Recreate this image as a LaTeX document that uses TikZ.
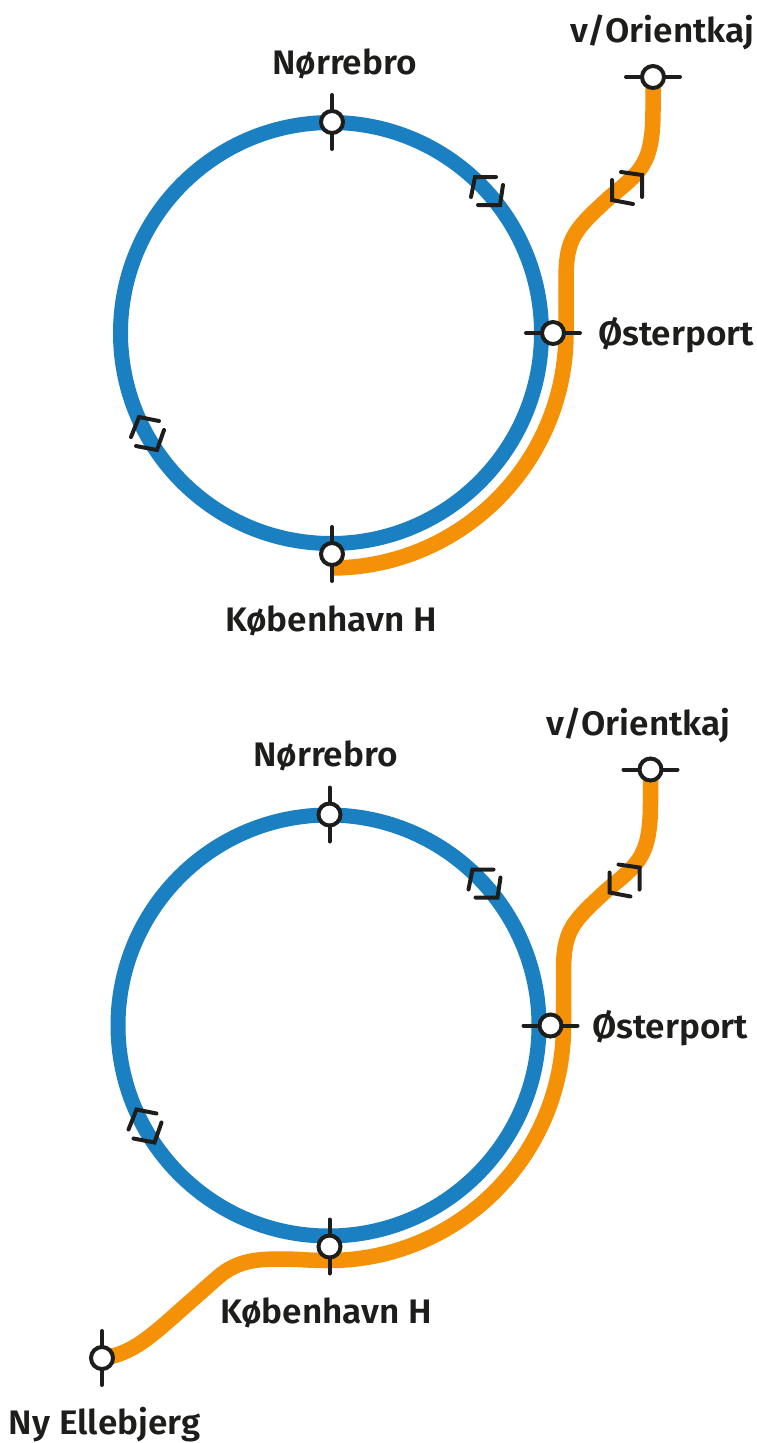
\documentclass[tikz,border=0pt]{standalone}
\usepackage{fontspec}
\setmainfont{Fira Sans}[BoldFont={Fira Sans SemiBold},FakeStretch=1.035]
\definecolor{ringblue}{HTML}{1A80C1}
\definecolor{lineorange}{HTML}{F59106}
\definecolor{ink}{HTML}{1D1D1B}
\tikzset{
  x=1pt,y=-1pt,
  bluering/.style={draw=ringblue,line width=15pt},
  orangeline/.style={draw=lineorange,line width=15.5pt},
  tick/.style={draw=ink,line width=4pt,line cap=round},
  bracket/.style={draw=ink,line width=4pt,line cap=round,line join=miter},
  station/.style={circle,draw=ink,fill=white,line width=4pt,minimum size=22pt,inner sep=0pt,outer sep=0pt},
  label/.style={inner sep=0pt,outer sep=0pt,anchor=base west,text=ink,font=\fontsize{34}{38}\selectfont\bfseries},
}
\newcommand{\stationmark}[4]{% name, x, y, h/v
  \coordinate (#1a) at (#2,#3);
  \ifx#4h
    \draw[tick] ([xshift=-27pt]#1a) -- ([xshift=27pt]#1a);
  \else
    \draw[tick] ([yshift=-27pt]#1a) -- ([yshift=27pt]#1a);
  \fi
  \node[station] (#1) at (#1a) {};
}
\newcommand{\brackets}{%
  \draw[bracket] (496,177) -- (475,177) -- (471,197);
  \draw[bracket] (478,205) -- (500,205) -- (503,185);
  \draw[bracket] (621,172) -- (642,175) -- (642,197);
  \draw[bracket] (633,204) -- (612,200) -- (612,180);
  \draw[bracket] (159,421) -- (139,417) -- (131,437);
  \draw[bracket] (136,446) -- (157,450) -- (164,430);
}
\newcommand{\upperpart}{%
  \draw[bluering] (331,333) circle [radius=210.5pt];
  \coordinate (turn) at (566,333);
  \coordinate (low) at (331,568);
  \draw[orangeline] (low) .. controls (460.8,568) and (566,462.8) .. (turn)
     -- (566,280) .. controls (566,238) and (574,230) .. (610,197)
     .. controls (640,172) and (653,165) .. (653,110) -- (653,77);
  \brackets
  \stationmark{nor}{332}{122}{v}
  \stationmark{ost}{553}{333}{h}
  \stationmark{ori}{653}{77}{h}
}
\begin{document}
\begin{tikzpicture}
\useasboundingbox (0,0) rectangle (757,1443);
\begin{scope}
  \upperpart
  \stationmark{kbh}{332}{554}{v}
  \node[label] (lnor) at (272,74) {Nørrebro};
  \node[label] (lori) at (570,42) {v/Orientkaj};
  \node[label] (lost) at (598,345) {Østerport};
  \node[label] (lkbh) at (225,631) {København H};
\end{scope}
\begin{scope}[shift={(-2.5,692.5)}]
  \upperpart
  \draw[orangeline] (low) .. controls (311,568) and (300,566.5) .. (285.5,566.5)
     .. controls (262,566.5) and (240,567) .. (219.5,585.5)
     -- (185.5,615.5)
     .. controls (155.5,642) and (135,662) .. (104.5,665.5);
  \stationmark{kbhb}{332}{554}{v}
  \stationmark{nye}{104.5}{665.5}{v}
  \node[label] (lnorb) at (255.5,74) {Nørrebro};
  \node[label] (lorib) at (548.5,43) {v/Orientkaj};
  \node[label] (lostb) at (594.5,346) {Østerport};
  \node[label] (lkbhb) at (222.5,631) {København H};
  \node[label] (lnye) at (11.5,742) {Ny Ellebjerg};
\end{scope}
\end{tikzpicture}
\end{document}
